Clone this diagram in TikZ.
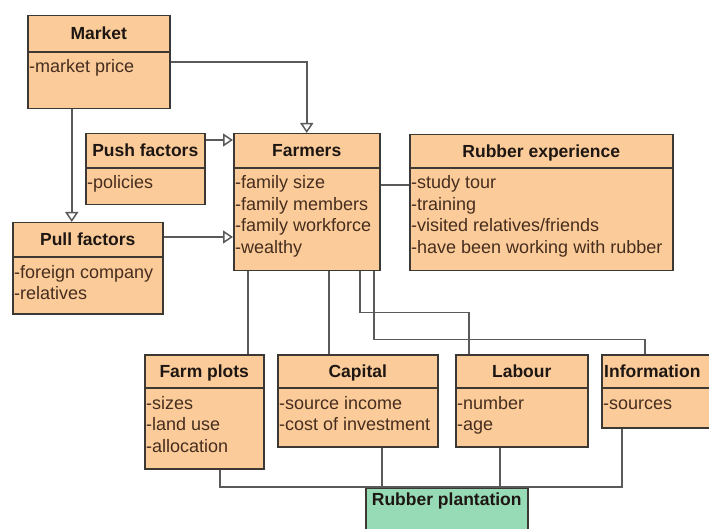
\documentclass[tikz,border=0pt]{standalone}
\usepackage{fontspec}
\setmainfont{Liberation Sans}
\usetikzlibrary{arrows.meta}
\definecolor{boxfill}{RGB}{251,204,154}
\definecolor{boxline}{RGB}{60,56,52}
\definecolor{connc}{RGB}{90,90,90}
\definecolor{greenfill}{RGB}{150,219,182}
\definecolor{titlec}{RGB}{30,22,18}
\definecolor{bodyc}{RGB}{70,45,30}
\tikzset{
 umlbox/.style={draw=boxline, fill=boxfill, line width=1.5pt, rectangle, inner sep=0pt, anchor=north west},
 sepline/.style={draw=boxline, line width=1.2pt},
 titletext/.style={font=\fontsize{17.5}{20}\selectfont\bfseries, text=titlec, inner sep=0pt, anchor=base},
 bodytext/.style={font=\fontsize{18}{21}\selectfont, text=bodyc, inner sep=0pt, anchor=base west},
 conn/.style={draw=connc, line width=1.5pt},
 arr/.style={conn, -{Triangle[open, length=10pt, width=13pt, fill=white]}},
}
\newcommand{\umlb}[8]{%
  \node[umlbox, minimum width=#4pt, minimum height=#5pt] (#1) at (#2,#3) {};
  \draw[sepline] ([yshift=-#6pt]#1.north west) -- ([yshift=-#6pt]#1.north east);
  \node[titletext] (#1-t) at ([yshift=-#6pt/2-6.3pt]#1.north) {#7};
  \foreach \bl [count=\i] in {#8} {
    \node[bodytext] (#1-l\i) at ([xshift=2pt, yshift={-#6pt-21pt-(\i-1)*21.5pt}]#1.north west) {\bl};
  }%
}
\begin{document}
\begin{tikzpicture}[x=1pt, y=-1pt]
\useasboundingbox (0,0) rectangle (709,529);
\begin{scope}
\clip (0,0) rectangle (709,529);
\fill[white] (0,0) rectangle (709,529);
% boxes
\umlb{market}{27}{15}{142}{93}{37}{Market}{-market price}
\umlb{push}{85}{133}{119}{71}{35}{Push factors}{-policies}
\umlb{farmers}{233}{133}{146}{137}{35}{Farmers}{-family size,-family members,-family workforce,-wealthy}
\umlb{rexp}{409}{134}{263}{136}{34}{Rubber experience}{-study tour,-training,-visited relatives/friends,-have been working with rubber}
\umlb{pull}{12}{222}{150}{91}{35}{Pull factors}{-foreign company,-relatives}
\umlb{farm}{144}{354}{119}{114}{34}{Farm plots}{-sizes,-land use,-allocation}
\umlb{capital}{277}{354}{160}{92}{34}{Capital}{-source income,-cost of investment}
\umlb{labour}{455}{354}{132}{92}{34}{Labour}{-number,-age}
% information (cut at right edge)
\node[umlbox, minimum width=130pt, minimum height=73pt] (info) at (601,354) {};
\draw[sepline] ([yshift=-34pt]info.north west) -- ([yshift=-34pt]info.north east);
\node[titletext, anchor=base west] (info-t) at ([xshift=3pt, yshift=-23.3pt]info.north west) {Information};
\node[bodytext] (info-l1) at ([xshift=2pt, yshift=-55pt]info.north west) {-sources};
% rubber plantation (cut at bottom edge)
\node[umlbox, fill=greenfill, minimum width=162pt, minimum height=70pt] (rp) at (365,487) {};
\node[titletext] (rp-t) at ([yshift=-18.5pt]rp.north) {Rubber plantation};
% connectors with open arrowheads
\draw[arr] ([xshift=-27pt]market.south) -- ([xshift=-27pt]market.south |- pull.north);
\draw[arr] (market.east) -| (farmers.north);
\draw[arr] ([yshift=-7pt]push.north east) -- ([yshift=-7pt]push.north east -| farmers.west);
\draw[arr] ([yshift=-15pt]pull.north east) -- ([yshift=-15pt]pull.north east -| farmers.west);
% plain connectors
\draw[conn] ([yshift=-52pt]farmers.north east) -- ([yshift=-52pt]farmers.north east -| rexp.west);
\draw[conn] ([xshift=-59pt]farmers.south) -- ([xshift=-59pt]farmers.south |- farm.north);
\draw[conn] ([xshift=22pt]farmers.south) -- ([xshift=22pt]farmers.south |- capital.north);
\draw[conn] ([xshift=53pt]farmers.south) -- ++(0,41) -| ([xshift=-53pt]labour.north);
\draw[conn] ([xshift=67pt]farmers.south) -- ++(0,68) -| ([xshift=44pt]info.north west);
% to rubber plantation
\draw[conn] ([xshift=15.5pt]farm.south) |- (rp.north);
\draw[conn] ([xshift=21pt]info.south west) |- (rp.north);
\draw[conn] ([xshift=24pt]capital.south) -- ([xshift=24pt]capital.south |- rp.north);
\draw[conn] ([xshift=-22pt]labour.south) -- ([xshift=-22pt]labour.south |- rp.north);
\end{scope}
\end{tikzpicture}
\end{document}
